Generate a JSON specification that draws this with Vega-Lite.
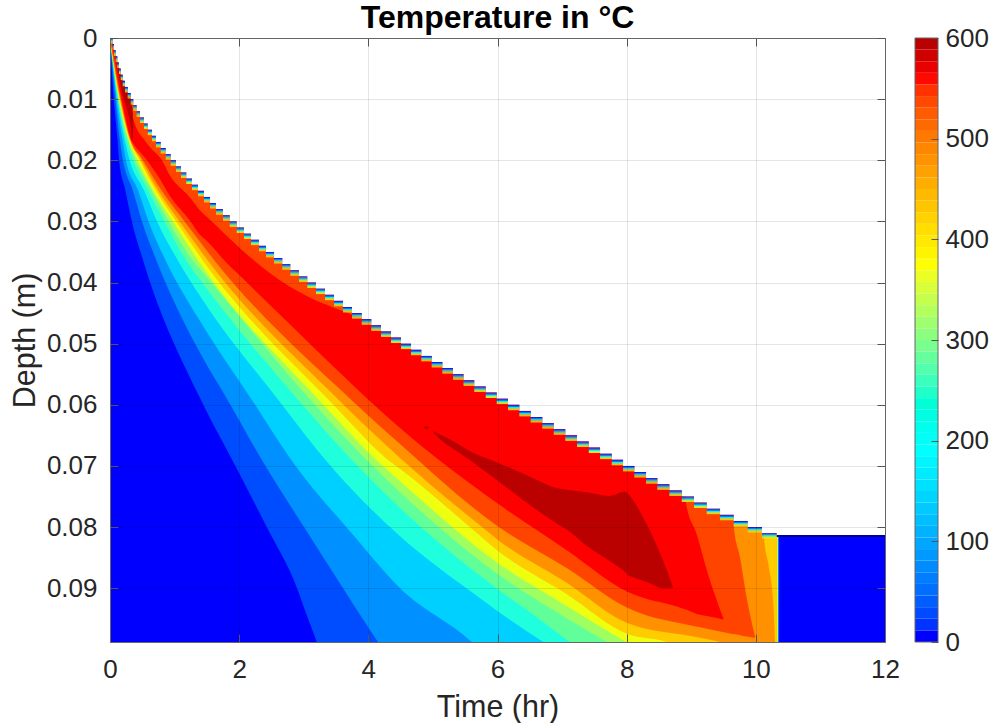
{"$schema":"https://vega.github.io/schema/vega-lite/v6.json","padding":{"left":10,"top":2,"right":0,"bottom":0},"background":"white","spacing":14,
"config":{"font":"Liberation Sans","view":{"stroke":null},"axis":{"labelColor":"#262626","titleColor":"#262626","labelFont":"Liberation Sans","titleFont":"Liberation Sans","labelFontSize":26,"titleFontSize":30.5,"titleFontWeight":"normal","tickColor":"#555555","domainColor":"#666666","labelFlush":false,"labelOverlap":false}},
"datasets":{"stairs":[
{"t0":0,"t1":0.042,"d":0},{"t0":0.042,"t1":0.062,"d":0.001},{"t0":0.062,"t1":0.088,"d":0.002},{"t0":0.088,"t1":0.113,"d":0.003},{"t0":0.113,"t1":0.139,"d":0.004},{"t0":0.139,"t1":0.166,"d":0.005},{"t0":0.166,"t1":0.197,"d":0.006},{"t0":0.197,"t1":0.232,"d":0.007},{"t0":0.232,"t1":0.274,"d":0.008},{"t0":0.274,"t1":0.321,"d":0.009},
{"t0":0.321,"t1":0.361,"d":0.01},{"t0":0.361,"t1":0.413,"d":0.011},{"t0":0.413,"t1":0.465,"d":0.012},{"t0":0.465,"t1":0.526,"d":0.013},{"t0":0.526,"t1":0.584,"d":0.014},{"t0":0.584,"t1":0.65,"d":0.015},{"t0":0.65,"t1":0.712,"d":0.016},{"t0":0.712,"t1":0.785,"d":0.017},{"t0":0.785,"t1":0.863,"d":0.018},{"t0":0.863,"t1":0.94,"d":0.019},
{"t0":0.94,"t1":1.022,"d":0.02},{"t0":1.022,"t1":1.099,"d":0.021},{"t0":1.099,"t1":1.181,"d":0.022},{"t0":1.181,"t1":1.27,"d":0.023},{"t0":1.27,"t1":1.363,"d":0.024},{"t0":1.363,"t1":1.456,"d":0.025},{"t0":1.456,"t1":1.549,"d":0.026},{"t0":1.549,"t1":1.641,"d":0.027},{"t0":1.641,"t1":1.75,"d":0.028},{"t0":1.75,"t1":1.854,"d":0.029},
{"t0":1.854,"t1":1.962,"d":0.03},{"t0":1.962,"t1":2.075,"d":0.031},{"t0":2.075,"t1":2.183,"d":0.032},{"t0":2.183,"t1":2.307,"d":0.033},{"t0":2.307,"t1":2.416,"d":0.034},{"t0":2.416,"t1":2.54,"d":0.035},{"t0":2.54,"t1":2.668,"d":0.036},{"t0":2.668,"t1":2.792,"d":0.037},{"t0":2.792,"t1":2.927,"d":0.038},{"t0":2.927,"t1":3.055,"d":0.039},
{"t0":3.055,"t1":3.19,"d":0.04},{"t0":3.19,"t1":3.329,"d":0.041},{"t0":3.329,"t1":3.469,"d":0.042},{"t0":3.469,"t1":3.608,"d":0.043},{"t0":3.608,"t1":3.747,"d":0.044},{"t0":3.747,"t1":3.898,"d":0.045},{"t0":3.898,"t1":4.046,"d":0.046},{"t0":4.046,"t1":4.196,"d":0.047},{"t0":4.196,"t1":4.351,"d":0.048},{"t0":4.351,"t1":4.506,"d":0.049},
{"t0":4.506,"t1":4.661,"d":0.05},{"t0":4.661,"t1":4.82,"d":0.051},{"t0":4.82,"t1":4.981,"d":0.052},{"t0":4.981,"t1":5.146,"d":0.053},{"t0":5.146,"t1":5.311,"d":0.054},{"t0":5.311,"t1":5.474,"d":0.055},{"t0":5.474,"t1":5.64,"d":0.056},{"t0":5.64,"t1":5.818,"d":0.057},{"t0":5.818,"t1":5.988,"d":0.058},{"t0":5.988,"t1":6.163,"d":0.059},
{"t0":6.163,"t1":6.338,"d":0.06},{"t0":6.338,"t1":6.514,"d":0.061},{"t0":6.514,"t1":6.694,"d":0.062},{"t0":6.694,"t1":6.871,"d":0.063},{"t0":6.871,"t1":7.05,"d":0.064},{"t0":7.05,"t1":7.231,"d":0.065},{"t0":7.231,"t1":7.413,"d":0.066},{"t0":7.413,"t1":7.588,"d":0.067},{"t0":7.588,"t1":7.769,"d":0.068},{"t0":7.769,"t1":7.944,"d":0.069},
{"t0":7.944,"t1":8.119,"d":0.07},{"t0":8.119,"t1":8.3,"d":0.071},{"t0":8.3,"t1":8.475,"d":0.072},{"t0":8.475,"t1":8.661,"d":0.073},{"t0":8.661,"t1":8.853,"d":0.074},{"t0":8.853,"t1":9.043,"d":0.075},{"t0":9.043,"t1":9.24,"d":0.076},{"t0":9.24,"t1":9.446,"d":0.077},{"t0":9.446,"t1":9.658,"d":0.078},{"t0":9.658,"t1":9.875,"d":0.079},
{"t0":9.875,"t1":10.096,"d":0.08},{"t0":10.096,"t1":10.324,"d":0.081},{"t0":10.324,"t1":12,"d":0.0813},{"t0":12,"t1":12,"d":0.0813}],
"bands":[
{"L":0,"s":"a","t":0,"top":0,"bot":0.0988},{"L":0,"s":"a","t":12,"top":0,"bot":0.0988},
{"L":50,"s":"a","t":0,"top":0,"bot":0},{"L":50,"s":"a","t":0.054,"top":0,"bot":0.0095},{"L":50,"s":"a","t":0.119,"top":0,"bot":0.0169},{"L":50,"s":"a","t":0.139,"top":0,"bot":0.0198},{"L":50,"s":"a","t":0.24,"top":0,"bot":0.025},{"L":50,"s":"a","t":0.336,"top":0,"bot":0.0299},{"L":50,"s":"a","t":0.516,"top":0,"bot":0.0365},{"L":50,"s":"a","t":1.394,"top":0,"bot":0.0589},{"L":50,"s":"a","t":1.936,"top":0,"bot":0.0699},{"L":50,"s":"a","t":2.427,"top":0,"bot":0.08},{"L":50,"s":"a","t":2.896,"top":0,"bot":0.09},{"L":50,"s":"a","t":3.046,"top":0,"bot":0.0944},{"L":50,"s":"a","t":3.201,"top":0,"bot":0.0988},{"L":50,"s":"a","t":3.4,"top":0,"bot":0.105},{"L":50,"s":"a","t":10.352,"top":0,"bot":0.15},
{"L":100,"s":"a","t":0,"top":0,"bot":0},{"L":100,"s":"a","t":0.077,"top":0,"bot":0.0095},{"L":100,"s":"a","t":0.155,"top":0,"bot":0.0169},{"L":100,"s":"a","t":0.197,"top":0,"bot":0.0198},{"L":100,"s":"a","t":0.356,"top":0,"bot":0.025},{"L":100,"s":"a","t":0.491,"top":0,"bot":0.0299},{"L":100,"s":"a","t":0.723,"top":0,"bot":0.0365},{"L":100,"s":"a","t":1.394,"top":0,"bot":0.0515},{"L":100,"s":"a","t":1.832,"top":0,"bot":0.0594},{"L":100,"s":"a","t":2.4,"top":0,"bot":0.0699},{"L":100,"s":"a","t":3.004,"top":0,"bot":0.08},{"L":100,"s":"a","t":3.608,"top":0,"bot":0.09},{"L":100,"s":"a","t":4.15,"top":0,"bot":0.0988},{"L":100,"s":"a","t":4.4,"top":0,"bot":0.1025},{"L":100,"s":"a","t":10.35,"top":0,"bot":0.15},
{"L":150,"s":"a","t":0,"top":0,"bot":0},{"L":150,"s":"a","t":0.093,"top":0,"bot":0.0095},{"L":150,"s":"a","t":0.197,"top":0,"bot":0.0169},{"L":150,"s":"a","t":0.243,"top":0,"bot":0.0198},{"L":150,"s":"a","t":0.438,"top":0,"bot":0.025},{"L":150,"s":"a","t":0.593,"top":0,"bot":0.0299},{"L":150,"s":"a","t":0.867,"top":0,"bot":0.0365},{"L":150,"s":"a","t":1.394,"top":0,"bot":0.0463},{"L":150,"s":"a","t":2.21,"top":0,"bot":0.0594},{"L":150,"s":"a","t":2.865,"top":0,"bot":0.0699},{"L":150,"s":"a","t":3.716,"top":0,"bot":0.0807},{"L":150,"s":"a","t":4.491,"top":0,"bot":0.09},{"L":150,"s":"a","t":5.601,"top":0,"bot":0.0988},{"L":150,"s":"a","t":6,"top":0,"bot":0.103},{"L":150,"s":"a","t":10.347,"top":0,"bot":0.15},
{"L":200,"s":"a","t":0,"top":0,"bot":0},{"L":200,"s":"a","t":0.108,"top":0,"bot":0.0095},{"L":200,"s":"a","t":0.232,"top":0,"bot":0.0169},{"L":200,"s":"a","t":0.299,"top":0,"bot":0.0198},{"L":200,"s":"a","t":0.531,"top":0,"bot":0.025},{"L":200,"s":"a","t":0.723,"top":0,"bot":0.0299},{"L":200,"s":"a","t":1.058,"top":0,"bot":0.0365},{"L":200,"s":"a","t":1.394,"top":0,"bot":0.0422},{"L":200,"s":"a","t":2.622,"top":0,"bot":0.0594},{"L":200,"s":"a","t":3.407,"top":0,"bot":0.0699},{"L":200,"s":"a","t":4.491,"top":0,"bot":0.0815},{"L":200,"s":"a","t":5.621,"top":0,"bot":0.0908},{"L":200,"s":"a","t":6.008,"top":0,"bot":0.0938},{"L":200,"s":"a","t":6.71,"top":0,"bot":0.0988},{"L":200,"s":"a","t":7.1,"top":0,"bot":0.1015},{"L":200,"s":"a","t":10.344,"top":0,"bot":0.15},
{"L":250,"s":"a","t":0,"top":0,"bot":0},{"L":250,"s":"a","t":0.116,"top":0,"bot":0.0095},{"L":250,"s":"a","t":0.259,"top":0,"bot":0.0169},{"L":250,"s":"a","t":0.352,"top":0,"bot":0.0198},{"L":250,"s":"a","t":0.593,"top":0,"bot":0.025},{"L":250,"s":"a","t":0.836,"top":0,"bot":0.0299},{"L":250,"s":"a","t":1.188,"top":0,"bot":0.0365},{"L":250,"s":"a","t":1.394,"top":0,"bot":0.0395},{"L":250,"s":"a","t":2.931,"top":0,"bot":0.0594},{"L":250,"s":"a","t":3.825,"top":0,"bot":0.0699},{"L":250,"s":"a","t":4.491,"top":0,"bot":0.0769},{"L":250,"s":"a","t":6.008,"top":0,"bot":0.0902},{"L":250,"s":"a","t":6.55,"top":0,"bot":0.0943},{"L":250,"s":"a","t":7.123,"top":0,"bot":0.0988},{"L":250,"s":"a","t":7.5,"top":0,"bot":0.1013},{"L":250,"s":"a","t":10.341,"top":0,"bot":0.15},
{"L":300,"s":"a","t":0,"top":0,"bot":0},{"L":300,"s":"a","t":0.124,"top":0,"bot":0.0095},{"L":300,"s":"a","t":0.283,"top":0,"bot":0.0169},{"L":300,"s":"a","t":0.387,"top":0,"bot":0.0198},{"L":300,"s":"a","t":0.646,"top":0,"bot":0.025},{"L":300,"s":"a","t":0.903,"top":0,"bot":0.0299},{"L":300,"s":"a","t":1.29,"top":0,"bot":0.0365},{"L":300,"s":"a","t":1.394,"top":0,"bot":0.0378},{"L":300,"s":"a","t":3.123,"top":0,"bot":0.0594},{"L":300,"s":"a","t":4.057,"top":0,"bot":0.0699},{"L":300,"s":"a","t":4.491,"top":0,"bot":0.0743},{"L":300,"s":"a","t":6.008,"top":0,"bot":0.0877},{"L":300,"s":"a","t":7.072,"top":0,"bot":0.0949},{"L":300,"s":"a","t":7.691,"top":0,"bot":0.0988},{"L":300,"s":"a","t":8,"top":0,"bot":0.1008},{"L":300,"s":"a","t":10.338,"top":0,"bot":0.15},
{"L":350,"s":"a","t":0,"top":0,"bot":0},{"L":350,"s":"a","t":0.132,"top":0,"bot":0.0095},{"L":350,"s":"a","t":0.299,"top":0,"bot":0.0169},{"L":350,"s":"a","t":0.418,"top":0,"bot":0.0198},{"L":350,"s":"a","t":0.67,"top":0,"bot":0.025},{"L":350,"s":"a","t":0.965,"top":0,"bot":0.0299},{"L":350,"s":"a","t":1.37,"top":0,"bot":0.0365},{"L":350,"s":"a","t":3.252,"top":0,"bot":0.0594},{"L":350,"s":"a","t":4.212,"top":0,"bot":0.0699},{"L":350,"s":"a","t":4.491,"top":0,"bot":0.0725},{"L":350,"s":"a","t":6.008,"top":0,"bot":0.0859},{"L":350,"s":"a","t":7.072,"top":0,"bot":0.0929},{"L":350,"s":"a","t":7.99,"top":0,"bot":0.0988},{"L":350,"s":"a","t":8.3,"top":0,"bot":0.1007},{"L":350,"s":"a","t":10.335,"top":0,"bot":0.15},
{"L":400,"s":"a","t":0,"top":0,"bot":0},{"L":400,"s":"a","t":0.139,"top":0,"bot":0.0095},{"L":400,"s":"a","t":0.31,"top":0,"bot":0.0169},{"L":400,"s":"a","t":0.449,"top":0,"bot":0.0198},{"L":400,"s":"a","t":0.712,"top":0,"bot":0.025},{"L":400,"s":"a","t":1.017,"top":0,"bot":0.0299},{"L":400,"s":"a","t":1.445,"top":0,"bot":0.0365},{"L":400,"s":"a","t":3.407,"top":0,"bot":0.0594},{"L":400,"s":"a","t":4.413,"top":0,"bot":0.0699},{"L":400,"s":"a","t":4.491,"top":0,"bot":0.0705},{"L":400,"s":"a","t":5.606,"top":0,"bot":0.0803},{"L":400,"s":"a","t":6.008,"top":0,"bot":0.0839},{"L":400,"s":"a","t":7.072,"top":0,"bot":0.091},{"L":400,"s":"a","t":8.01,"top":0,"bot":0.0975},{"L":400,"s":"a","t":8.62,"top":0,"bot":0.0988},{"L":400,"s":"a","t":9,"top":0,"bot":0.1005},{"L":400,"s":"a","t":10.329,"top":0,"bot":0.15},
{"L":450,"s":"a","t":0,"top":0,"bot":0},{"L":450,"s":"a","t":0.147,"top":0,"bot":0.0095},{"L":450,"s":"a","t":0.321,"top":0,"bot":0.0169},{"L":450,"s":"a","t":0.472,"top":0,"bot":0.0198},{"L":450,"s":"a","t":0.748,"top":0,"bot":0.025},{"L":450,"s":"a","t":1.068,"top":0,"bot":0.0299},{"L":450,"s":"a","t":1.522,"top":0,"bot":0.0365},{"L":450,"s":"a","t":3.562,"top":0,"bot":0.0594},{"L":450,"s":"a","t":4.491,"top":0,"bot":0.0687},{"L":450,"s":"a","t":5.76,"top":0,"bot":0.08},{"L":450,"s":"a","t":6.008,"top":0,"bot":0.0821},{"L":450,"s":"a","t":7.072,"top":0,"bot":0.0891},{"L":450,"s":"a","t":8.01,"top":0,"bot":0.0957},{"L":450,"s":"a","t":9.136,"top":0,"bot":0.0981},{"L":450,"s":"a","t":9.446,"top":0,"bot":0.0988},{"L":450,"s":"a","t":10.126,"top":0,"bot":0.102},{"L":450,"s":"a","t":10.127,"top":0.0818,"bot":0.102},{"L":450,"s":"a","t":10.194,"top":0.0861,"bot":0.102},{"L":450,"s":"a","t":10.271,"top":0.0926,"bot":0.102},{"L":450,"s":"a","t":10.298,"top":0.0988,"bot":0.102},
{"L":500,"s":"a","t":0,"top":0,"bot":0},{"L":500,"s":"a","t":0.155,"top":0,"bot":0.0095},{"L":500,"s":"a","t":0.325,"top":0,"bot":0.0169},{"L":500,"s":"a","t":0.496,"top":0,"bot":0.0198},{"L":500,"s":"a","t":0.801,"top":0,"bot":0.025},{"L":500,"s":"a","t":1.146,"top":0,"bot":0.0299},{"L":500,"s":"a","t":1.626,"top":0,"bot":0.0365},{"L":500,"s":"a","t":3.758,"top":0,"bot":0.0594},{"L":500,"s":"a","t":4.491,"top":0,"bot":0.0664},{"L":500,"s":"a","t":6.008,"top":0,"bot":0.0799},{"L":500,"s":"a","t":7.072,"top":0,"bot":0.0867},{"L":500,"s":"a","t":8.01,"top":0,"bot":0.0932},{"L":500,"s":"a","t":9.136,"top":0,"bot":0.0964},{"L":500,"s":"a","t":9.601,"top":0,"bot":0.0974},{"L":500,"s":"a","t":9.657,"top":0,"bot":0.0975},{"L":500,"s":"a","t":9.658,"top":0.0799,"bot":0.0975},{"L":500,"s":"a","t":9.756,"top":0.085,"bot":0.0977},{"L":500,"s":"a","t":9.859,"top":0.0916,"bot":0.0979},{"L":500,"s":"a","t":9.988,"top":0.0979,"bot":0.0981},
{"L":550,"s":"a","t":0.031,"top":0.0005,"bot":0.0011},{"L":550,"s":"a","t":0.077,"top":0.0013,"bot":0.0038},{"L":550,"s":"a","t":0.124,"top":0.0025,"bot":0.007},{"L":550,"s":"a","t":0.17,"top":0.0045,"bot":0.0095},{"L":550,"s":"a","t":0.248,"top":0.0075,"bot":0.0135},{"L":550,"s":"a","t":0.336,"top":0.0105,"bot":0.0169},{"L":550,"s":"a","t":0.361,"top":0.0133,"bot":0.0173},{"L":550,"s":"a","t":0.557,"top":0.017,"bot":0.0198},{"L":550,"s":"a","t":0.852,"top":0.0209,"bot":0.0245},{"L":550,"s":"a","t":0.878,"top":0.0215,"bot":0.025},{"L":550,"s":"a","t":1.239,"top":0.0261,"bot":0.0299},{"L":550,"s":"a","t":1.394,"top":0.0282,"bot":0.0322},{"L":550,"s":"a","t":1.502,"top":0.0293,"bot":0.0332},{"L":550,"s":"a","t":1.781,"top":0.0321,"bot":0.0365},{"L":550,"s":"a","t":2.013,"top":0.0344,"bot":0.0389},{"L":550,"s":"a","t":2.684,"top":0.04,"bot":0.0458},{"L":550,"s":"a","t":3.613,"top":0.0447,"bot":0.0553},{"L":550,"s":"a","t":4.026,"top":0.046,"bot":0.0594},{"L":550,"s":"a","t":4.057,"top":0,"bot":0.0597},{"L":550,"s":"a","t":4.491,"top":0,"bot":0.0638},{"L":550,"s":"a","t":6.008,"top":0,"bot":0.0762},{"L":550,"s":"a","t":7.072,"top":0,"bot":0.0838},{"L":550,"s":"a","t":8.01,"top":0,"bot":0.0906},{"L":550,"s":"a","t":8.889,"top":0,"bot":0.0934},{"L":550,"s":"a","t":8.915,"top":0.0759,"bot":0.0935},{"L":550,"s":"a","t":9.085,"top":0.0812,"bot":0.0942},{"L":550,"s":"a","t":9.26,"top":0.0877,"bot":0.0946},{"L":550,"s":"a","t":9.497,"top":0.0949,"bot":0.0951},
{"L":600,"s":"a","t":0.077,"top":0.0018,"bot":0.0021},{"L":600,"s":"a","t":0.129,"top":0.0031,"bot":0.0054},{"L":600,"s":"a","t":0.181,"top":0.0038,"bot":0.0087},{"L":600,"s":"a","t":0.268,"top":0.0079,"bot":0.0119},{"L":600,"s":"a","t":0.321,"top":0.0095,"bot":0.0147},{"L":600,"s":"a","t":0.341,"top":0.0111,"bot":0.0169},{"L":600,"s":"a","t":0.361,"top":0.0136,"bot":0.0144},
{"L":600,"s":"b","t":4.863,"top":0.0636,"bot":0.0637},{"L":600,"s":"b","t":4.9,"top":0.0635,"bot":0.064},{"L":600,"s":"b","t":4.94,"top":0.0637,"bot":0.0638},
{"L":600,"s":"c","t":5.006,"top":0.0643,"bot":0.0645},{"L":600,"s":"c","t":5.136,"top":0.065,"bot":0.0659},{"L":600,"s":"c","t":5.369,"top":0.0663,"bot":0.0676},{"L":600,"s":"c","t":5.524,"top":0.0673,"bot":0.0687},{"L":600,"s":"c","t":6.013,"top":0.0695,"bot":0.0725},{"L":600,"s":"c","t":6.555,"top":0.072,"bot":0.0768},{"L":600,"s":"c","t":6.917,"top":0.0736,"bot":0.0794},{"L":600,"s":"c","t":7.072,"top":0.0739,"bot":0.0804},{"L":600,"s":"c","t":7.382,"top":0.0743,"bot":0.0831},{"L":600,"s":"c","t":7.743,"top":0.0749,"bot":0.0856},{"L":600,"s":"c","t":7.975,"top":0.0742,"bot":0.0874},{"L":600,"s":"c","t":8.01,"top":0.0744,"bot":0.0878},{"L":600,"s":"c","t":8.052,"top":0.0749,"bot":0.088},{"L":600,"s":"c","t":8.311,"top":0.0796,"bot":0.089},{"L":600,"s":"c","t":8.568,"top":0.0856,"bot":0.09},{"L":600,"s":"c","t":8.723,"top":0.09,"bot":0.09}
]},
"hconcat":[
{"width":775,"height":604,"title":{"text":"Temperature in °C","fontSize":32,"fontWeight":"bold","color":"#000000","font":"Liberation Sans","offset":-10},
"resolve":{"axis":{"x":"independent","y":"independent"}},
"layer":[
{"data":{"name":"bands"},"mark":{"type":"area","interpolate":"monotone","clip":true},"encoding":{
"x":{"field":"t","type":"quantitative","scale":{"domain":[0,12],"nice":false,"zero":false},"axis":{"title":"Time (hr)","values":[0,2,4,6,8,10,12],"grid":true,"gridColor":"#000000","gridOpacity":0.1,"tickSize":-8,"labelPadding":22,"titlePadding":10,"zindex":1,"format":"d"}},
"y":{"field":"top","type":"quantitative","stack":null,"scale":{"domain":[0,0.0988],"reverse":true,"nice":false,"zero":false},"axis":{"title":"Depth (m)","values":[0,0.01,0.02,0.03,0.04,0.05,0.06,0.07,0.08,0.09],"grid":true,"gridColor":"#000000","gridOpacity":0.1,"tickSize":-8,"labelPadding":21,"titlePadding":6,"zindex":1,"labelExpr":"datum.value === 0 ? '0' : format(datum.value, '.2f')"}},
"y2":{"field":"bot"},
"color":{"field":"L","type":"ordinal","legend":null,"scale":{"domain":[0,50,100,150,200,250,300,350,400,450,500,550,600],"range":["#0000ff","#004cff","#0090ff","#00d0ff","#20ffdd","#60ff99","#a0ff60","#eeff10","#ffcc00","#ff9000","#ff4400","#ff0000","#bb0000"]}},
"detail":{"field":"s"}}},
{"data":{"name":"stairs"},"mark":{"type":"area","interpolate":"step-after","fill":"#ffffff"},"encoding":{"x":{"field":"t0","type":"quantitative","axis":null},"y":{"field":"d","type":"quantitative","stack":null,"axis":null},"y2":{"datum":0}}},
{"data":{"name":"stairs"},"transform":[{"filter":"datum.t0 < 10.3"}],"mark":{"type":"rect","fill":"#1818e8","yOffset":0,"y2Offset":1},"encoding":{"x":{"field":"t0","type":"quantitative","axis":null},"x2":{"field":"t1"},"y":{"field":"d","type":"quantitative","axis":null},"y2":{"field":"d"}}},
{"data":{"name":"stairs"},"transform":[{"filter":"datum.t0 < 10.3"}],"mark":{"type":"rect","fill":"#0080ff","yOffset":1,"y2Offset":2.2},"encoding":{"x":{"field":"t0","type":"quantitative","axis":null},"x2":{"field":"t1"},"y":{"field":"d","type":"quantitative","axis":null},"y2":{"field":"d"}}},
{"data":{"name":"stairs"},"transform":[{"filter":"datum.t0 < 10.3"}],"mark":{"type":"rect","fill":"#10f0e8","yOffset":2.2,"y2Offset":3.4},"encoding":{"x":{"field":"t0","type":"quantitative","axis":null},"x2":{"field":"t1"},"y":{"field":"d","type":"quantitative","axis":null},"y2":{"field":"d"}}},
{"data":{"name":"stairs"},"transform":[{"filter":"datum.t0 < 10.3"}],"mark":{"type":"rect","fill":"#90ff70","yOffset":3.4,"y2Offset":4.4},"encoding":{"x":{"field":"t0","type":"quantitative","axis":null},"x2":{"field":"t1"},"y":{"field":"d","type":"quantitative","axis":null},"y2":{"field":"d"}}},
{"data":{"name":"stairs"},"transform":[{"filter":"datum.t0 < 10.3"}],"mark":{"type":"rect","fill":"#ffdc00","yOffset":4.4,"y2Offset":5.4},"encoding":{"x":{"field":"t0","type":"quantitative","axis":null},"x2":{"field":"t1"},"y":{"field":"d","type":"quantitative","axis":null},"y2":{"field":"d"}}},
{"data":{"name":"stairs"},"transform":[{"filter":"datum.t0 >= 10.3"}],"mark":{"type":"rect","fill":"#000098","yOffset":0,"y2Offset":2},"encoding":{"x":{"field":"t0","type":"quantitative","axis":{"orient":"top","title":null,"labels":false,"grid":false,"tickSize":-8,"values":[0,2,4,6,8,10,12],"zindex":1}},"x2":{"field":"t1"},"y":{"field":"d","type":"quantitative","axis":{"orient":"right","title":null,"labels":false,"grid":false,"tickSize":-8,"values":[0,0.01,0.02,0.03,0.04,0.05,0.06,0.07,0.08,0.09],"zindex":1}},"y2":{"field":"d"}}}
]},
{"width":23,"height":604,"data":{"values":[
{"lo":0,"hi":11.5},{"lo":11.5,"hi":23.1},{"lo":23.1,"hi":34.6},{"lo":34.6,"hi":46.2},{"lo":46.2,"hi":57.7},{"lo":57.7,"hi":69.2},{"lo":69.2,"hi":80.8},{"lo":80.8,"hi":92.3},{"lo":92.3,"hi":103.8},{"lo":103.8,"hi":115.4},{"lo":115.4,"hi":126.9},{"lo":126.9,"hi":138.5},{"lo":138.5,"hi":150},{"lo":150,"hi":161.5},{"lo":161.5,"hi":173.1},{"lo":173.1,"hi":184.6},{"lo":184.6,"hi":196.2},{"lo":196.2,"hi":207.7},{"lo":207.7,"hi":219.2},{"lo":219.2,"hi":230.8},{"lo":230.8,"hi":242.3},{"lo":242.3,"hi":253.8},{"lo":253.8,"hi":265.4},{"lo":265.4,"hi":276.9},{"lo":276.9,"hi":288.5},{"lo":288.5,"hi":300},{"lo":300,"hi":311.5},{"lo":311.5,"hi":323.1},{"lo":323.1,"hi":334.6},{"lo":334.6,"hi":346.2},{"lo":346.2,"hi":357.7},{"lo":357.7,"hi":369.2},{"lo":369.2,"hi":380.8},{"lo":380.8,"hi":392.3},{"lo":392.3,"hi":403.8},{"lo":403.8,"hi":415.4},{"lo":415.4,"hi":426.9},{"lo":426.9,"hi":438.5},{"lo":438.5,"hi":450},{"lo":450,"hi":461.5},{"lo":461.5,"hi":473.1},{"lo":473.1,"hi":484.6},{"lo":484.6,"hi":496.2},{"lo":496.2,"hi":507.7},{"lo":507.7,"hi":519.2},{"lo":519.2,"hi":530.8},{"lo":530.8,"hi":542.3},{"lo":542.3,"hi":553.8},{"lo":553.8,"hi":565.4},{"lo":565.4,"hi":576.9},{"lo":576.9,"hi":588.5},{"lo":588.5,"hi":600}]},
"layer":[
{"mark":{"type":"rect"},"encoding":{"y":{"field":"lo","type":"quantitative","scale":{"domain":[0,600],"nice":false},"axis":{"orient":"right","title":null,"values":[0,100,200,300,400,500,600],"tickSize":-7,"labelPadding":14,"domain":false,"grid":false,"zindex":1}},"y2":{"field":"hi"},"color":{"field":"lo","type":"quantitative","legend":null,"scale":{"type":"linear","domain":[0,185,370,555,588],"range":["#0000ff","#00ffff","#ffff00","#ff0000","#bb0000"]}}}},
{"data":{"values":[{"lo":0,"hi":600}]},"mark":{"type":"rect","filled":false,"stroke":"#666666","strokeWidth":1},"encoding":{"y":{"field":"lo","type":"quantitative"},"y2":{"field":"hi"}}}
]}
]}
